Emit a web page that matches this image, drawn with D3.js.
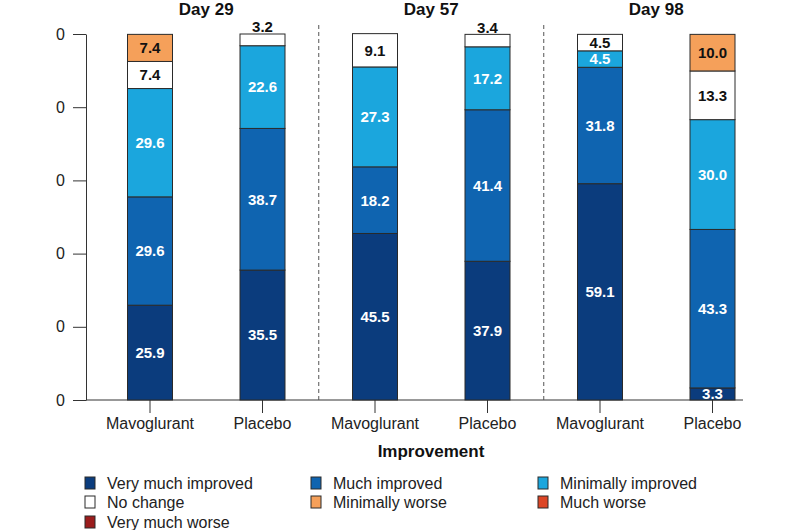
<!DOCTYPE html>
<html>
<head>
<meta charset="utf-8">
<script src="https://cdn.jsdelivr.net/npm/d3@7"></script>
<style>
  body { margin: 0; background: #fff; }
  svg { display: block; font-family: "Liberation Sans", Arial, sans-serif; }
</style>
</head>
<body>
<svg id="chart" width="800" height="530"></svg>
<script>
// data
const days = ['Day 29', 'Day 57', 'Day 98'];
const arms = ['Mavoglurant', 'Placebo'];
const categories = ['Very much improved', 'Much improved', 'Minimally improved',
  'No change', 'Minimally worse', 'Much worse', 'Very much worse'];
const colors = ['#0b3c7d', '#0f64b0', '#1ba6dd', '#ffffff', '#f5a05a', '#dc4626', '#9a1c1c'];
const yTicks = [0, 20, 40, 60, 80, 100];

// one row per bar, values in category order (bottom to top)
const day29Mav = [25.9, 29.6, 29.6, 7.4, 7.4, 0, 0];
const day29Pla = [35.5, 38.7, 22.6, 3.2, 0, 0, 0];
const day57Mav = [45.5, 18.2, 27.3, 9.1, 0, 0, 0];
const day57Pla = [37.9, 41.4, 17.2, 3.4, 0, 0, 0];
const day98Mav = [59.1, 31.8, 4.5, 4.5, 0, 0, 0];
const day98Pla = [3.3, 43.3, 30.0, 13.3, 10.0, 0, 0];

const bars = [
  { day: 'Day 29', arm: 'Mavoglurant', values: day29Mav },
  { day: 'Day 29', arm: 'Placebo', values: day29Pla },
  { day: 'Day 57', arm: 'Mavoglurant', values: day57Mav },
  { day: 'Day 57', arm: 'Placebo', values: day57Pla },
  { day: 'Day 98', arm: 'Mavoglurant', values: day98Mav },
  { day: 'Day 98', arm: 'Placebo', values: day98Pla }
];
bars.forEach(b => b.key = b.day + '|' + b.arm);

const svg = d3.select('#chart');
const axisLeftX = 86, axisRightX = 743;

const x = d3.scaleBand()
  .domain(bars.map(b => b.key))
  .range([93.75, 768.75])
  .paddingInner(0.6)
  .paddingOuter(0.3);

const y = d3.scaleLinear().domain([0, 100]).range([400, 34]);

// stack rows
const rows = bars.map(b => {
  const o = { key: b.key };
  categories.forEach((c, i) => o[c] = b.values[i]);
  return o;
});
const series = d3.stack().keys(categories)(rows);
const color = d3.scaleOrdinal().domain(categories).range(colors);

// y axis, labels clipped like the cropped original (clip is in tick coords)
svg.append('defs').append('clipPath').attr('id', 'yclip')
  .append('rect').attr('x', 56 - axisLeftX).attr('y', -600).attr('width', 100).attr('height', 1200);

const yAxis = svg.append('g')
  .attr('transform', `translate(${axisLeftX},0)`)
  .call(d3.axisLeft(y).tickValues(yTicks).tickSize(13).tickPadding(8).tickSizeOuter(0));
yAxis.attr('font-family', null);
yAxis.select('.domain').attr('stroke', '#333');
yAxis.selectAll('.tick line').attr('stroke', '#333');
yAxis.selectAll('.tick text')
  .attr('clip-path', 'url(#yclip)')
  .attr('font-size', 16)
  .attr('fill', '#222');

// x axis
const xAxis = svg.append('g')
  .attr('transform', 'translate(0,400)')
  .call(d3.axisBottom(x).tickSize(13).tickPadding(5).tickFormat(k => k.split('|')[1]));
xAxis.select('.domain').remove();
xAxis.attr('font-family', null);
xAxis.selectAll('.tick line').attr('stroke', '#333');
xAxis.selectAll('.tick text').attr('font-size', 16).attr('fill', '#222');
svg.append('line')
  .attr('x1', axisLeftX).attr('x2', axisRightX)
  .attr('y1', y(0)).attr('y2', y(0))
  .attr('stroke', '#333');

// dashed separators between days
const centers = bars.map(b => x(b.key) + x.bandwidth() / 2);
[1, 3].forEach(i => {
  const sx = (centers[i] + centers[i + 1]) / 2;
  svg.append('line')
    .attr('x1', sx).attr('x2', sx)
    .attr('y1', 25).attr('y2', y(0))
    .attr('stroke', '#555')
    .attr('stroke-dasharray', '4,3');
});

// day titles
days.forEach((d, i) => {
  svg.append('text')
    .attr('x', (centers[i * 2] + centers[i * 2 + 1]) / 2)
    .attr('y', 15)
    .attr('text-anchor', 'middle')
    .attr('font-size', 17)
    .attr('font-weight', 'bold')
    .attr('fill', '#111')
    .text(d);
});

// bars
const layer = svg.append('g').selectAll('g')
  .data(series)
  .join('g')
  .attr('fill', s => color(s.key));

layer.selectAll('rect')
  .data(s => s.filter(d => d[1] - d[0] > 0))
  .join('rect')
  .attr('x', d => x(d.data.key))
  .attr('width', x.bandwidth())
  .attr('y', d => y(d[1]))
  .attr('height', d => y(d[0]) - y(d[1]))
  .attr('stroke', '#2a2a2a')
  .attr('stroke-width', 1);

// segment labels
series.forEach(s => {
  const dark = ['Very much improved', 'Much improved', 'Minimally improved'].includes(s.key);
  s.forEach(d => {
    const v = d[1] - d[0];
    if (v <= 0) return;
    const small = s.key === 'No change' && v < 4;
    const cy = small ? y(d[1]) - 7 : (y(d[0]) + y(d[1])) / 2;
    svg.append('text')
      .attr('x', x(d.data.key) + x.bandwidth() / 2)
      .attr('y', cy)
      .attr('dy', '0.36em')
      .attr('text-anchor', 'middle')
      .attr('font-size', 15)
      .attr('font-weight', 'bold')
      .attr('fill', dark && !small ? '#fff' : '#111')
      .text(v.toFixed(1));
  });
});

// x title
svg.append('text')
  .attr('x', 431)
  .attr('y', 457)
  .attr('text-anchor', 'middle')
  .attr('font-size', 17)
  .attr('font-weight', 'bold')
  .attr('fill', '#111')
  .text('Improvement');

// legend
const legendCols = [85, 311, 538];
const legendRows = [483, 502, 522];
categories.forEach((c, i) => {
  const lx = legendCols[i % 3];
  const ly = legendRows[Math.floor(i / 3)];
  svg.append('rect')
    .attr('x', lx).attr('y', ly - 6)
    .attr('width', 10).attr('height', 12)
    .attr('fill', color(c))
    .attr('stroke', '#2a2a2a');
  svg.append('text')
    .attr('x', lx + 22).attr('y', ly)
    .attr('dy', '0.36em')
    .attr('font-size', 16)
    .attr('fill', '#222')
    .text(c);
});
</script>
</body>
</html>
